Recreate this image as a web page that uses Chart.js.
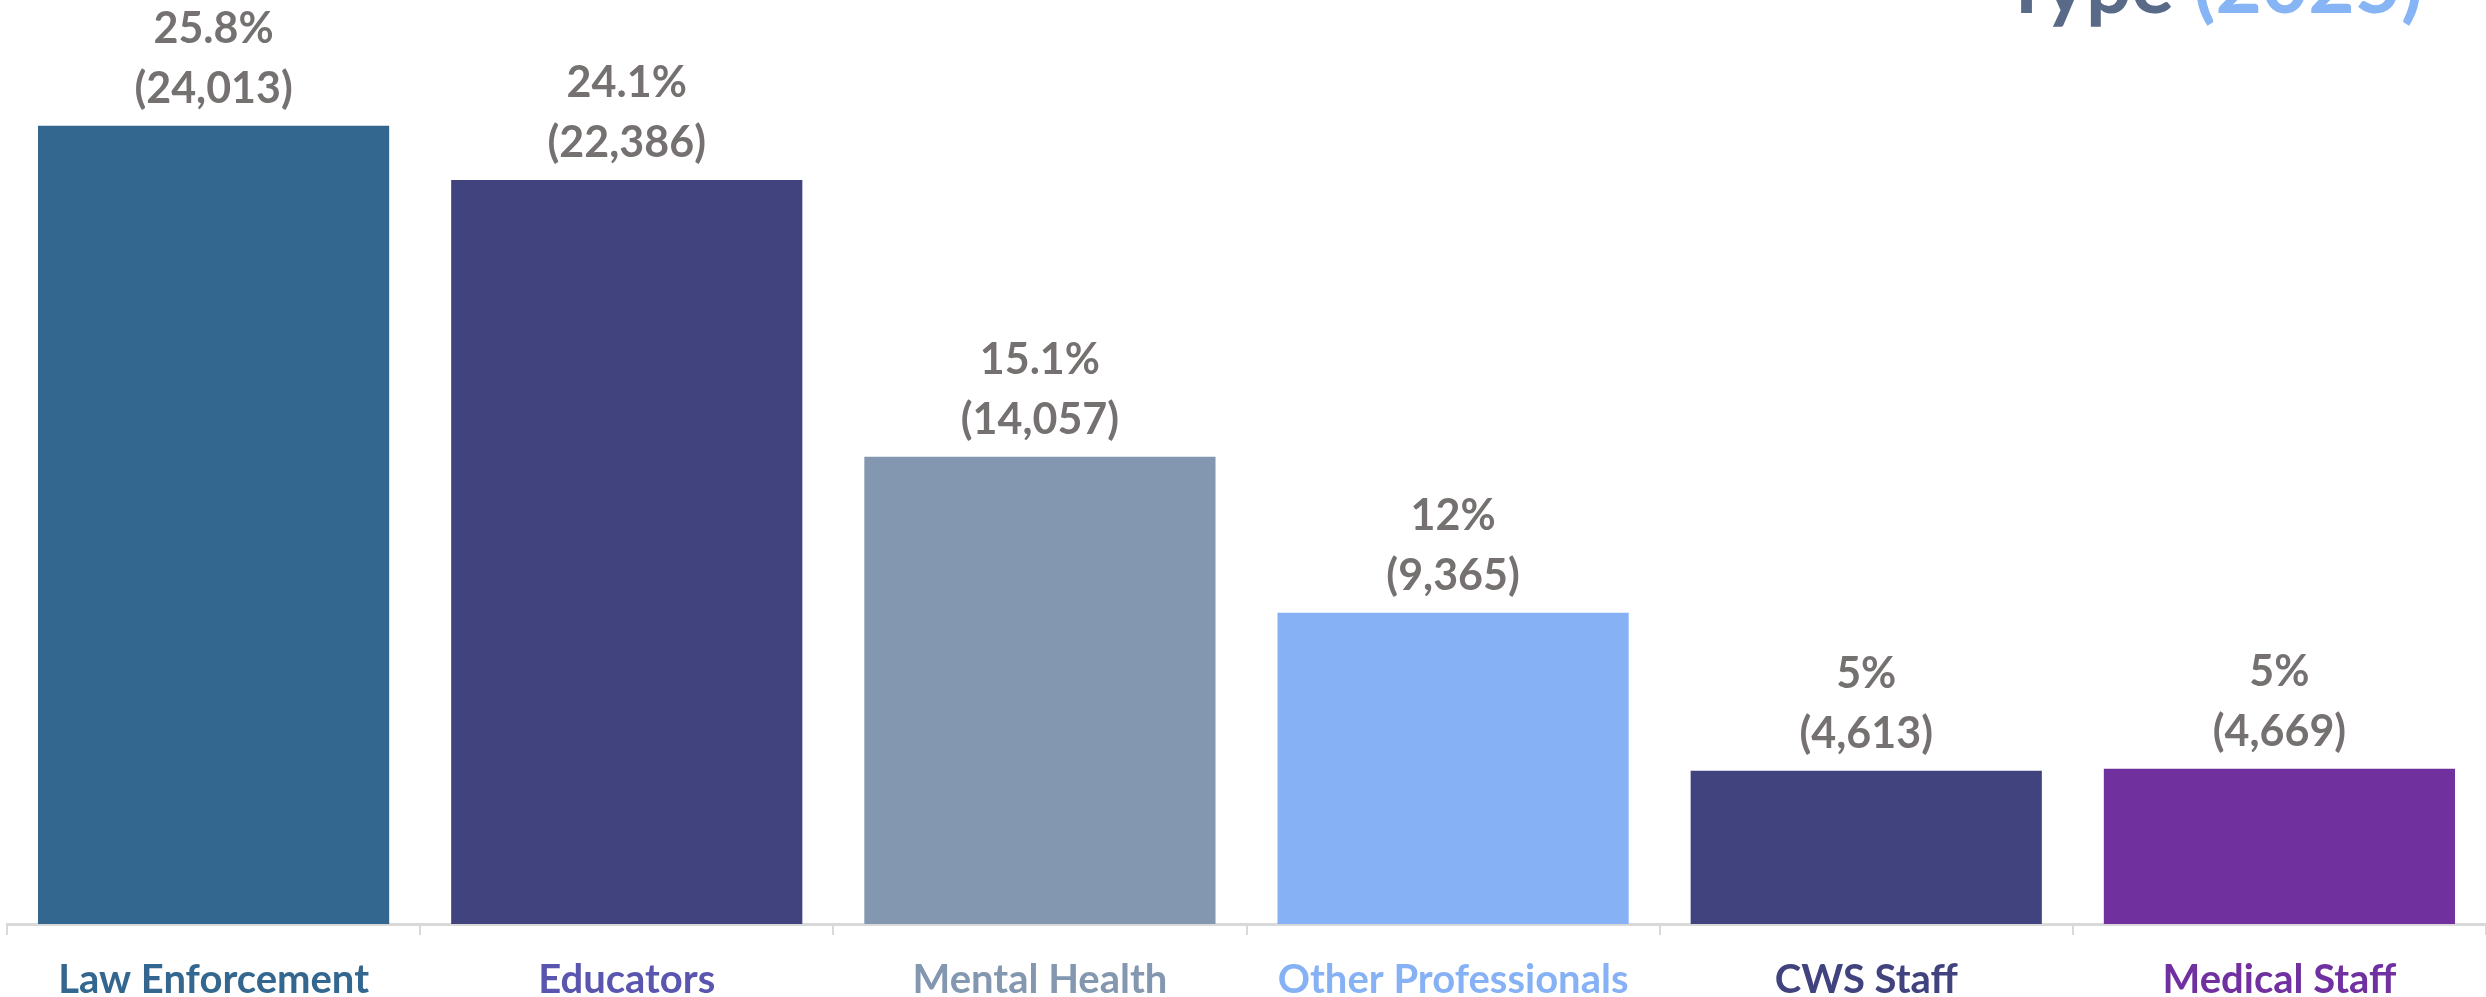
<!DOCTYPE html>
<html>
<head>
<meta charset="utf-8">
<script src="https://cdn.jsdelivr.net/npm/chart.js@4.4.1/dist/chart.umd.min.js"></script>
<style>
  html, body { margin: 0; padding: 0; background: #fff; overflow: hidden; }
</style>
</head>
<body>
<canvas id="grafico" width="2486" height="997"></canvas>
<script>
const categories = ['Law Enforcement', 'Educators', 'Mental Health', 'Other Professionals', 'CWS Staff', 'Medical Staff'];
const reports = [24013, 22386, 14057, 9365, 4613, 4669];
const percents = [25.8, 24.1, 15.1, 12, 5, 5];
const barColors = ['#34678f', '#41437f', '#8497b0', '#86b2f5', '#41437f', '#70309e'];
const tickColors = ['#34678f', '#5a56b0', '#8497b0', '#86b2f5', '#41437f', '#7030a0'];
const yMax = 25000;

const barLabels = {
  id: 'barLabels',
  afterDatasetsDraw(chart) {
    const ctx = chart.ctx;
    const meta = chart.getDatasetMeta(0);
    ctx.save();
    ctx.fillStyle = '#767171';
    ctx.font = 'bold 43px Lato';
    ctx.textAlign = 'center';
    ctx.textBaseline = 'alphabetic';
    meta.data.forEach((bar, i) => {
      ctx.fillText(percents[i] + '%', bar.x, bar.y - 83);
      ctx.fillText('(' + reports[i].toLocaleString('en-US') + ')', bar.x, bar.y - 23);
    });
    ctx.restore();
  }
};

// titulo cortado no topo (so a parte de baixo aparece)
const topTitle = {
  id: 'topTitle',
  afterDraw(chart) {
    const ctx = chart.ctx;
    ctx.save();
    ctx.font = 'bold 80px Lato';
    ctx.textBaseline = 'alphabetic';
    ctx.textAlign = 'right';
    const right = 2423;
    ctx.fillStyle = '#86b4f5';
    ctx.fillText('(2025)', right, 13);
    const w = ctx.measureText('(2025)').width;
    ctx.fillStyle = '#586a87';
    ctx.fillText('Type ', right - w, 13);
    ctx.restore();
  }
};

new Chart(document.getElementById('grafico'), {
  type: 'bar',
  data: {
    labels: categories,
    datasets: [{
      data: reports,
      backgroundColor: barColors,
      borderWidth: 0,
      barPercentage: 1,
      categoryPercentage: 0.85
    }]
  },
  options: {
    responsive: false,
    animation: false,
    layout: { padding: { top: 93, left: 7, right: 0, bottom: 0 } },
    plugins: {
      legend: { display: false },
      tooltip: { enabled: false }
    },
    scales: {
      y: { display: false, min: 0, max: yMax },
      x: {
        afterFit(scale) { scale.height = 73; },
        grid: {
          offset: true,
          drawOnChartArea: false,
          drawTicks: true,
          tickLength: 11,
          color: '#d9d9d9',
          lineWidth: 2
        },
        border: { display: true, color: '#d9d9d9', width: 3 },
        ticks: {
          color: (c) => tickColors[c.index],
          font: { family: 'Lato', weight: 'bold', size: 40 },
          padding: 21
        }
      }
    }
  },
  plugins: [barLabels, topTitle]
});
</script>
</body>
</html>
